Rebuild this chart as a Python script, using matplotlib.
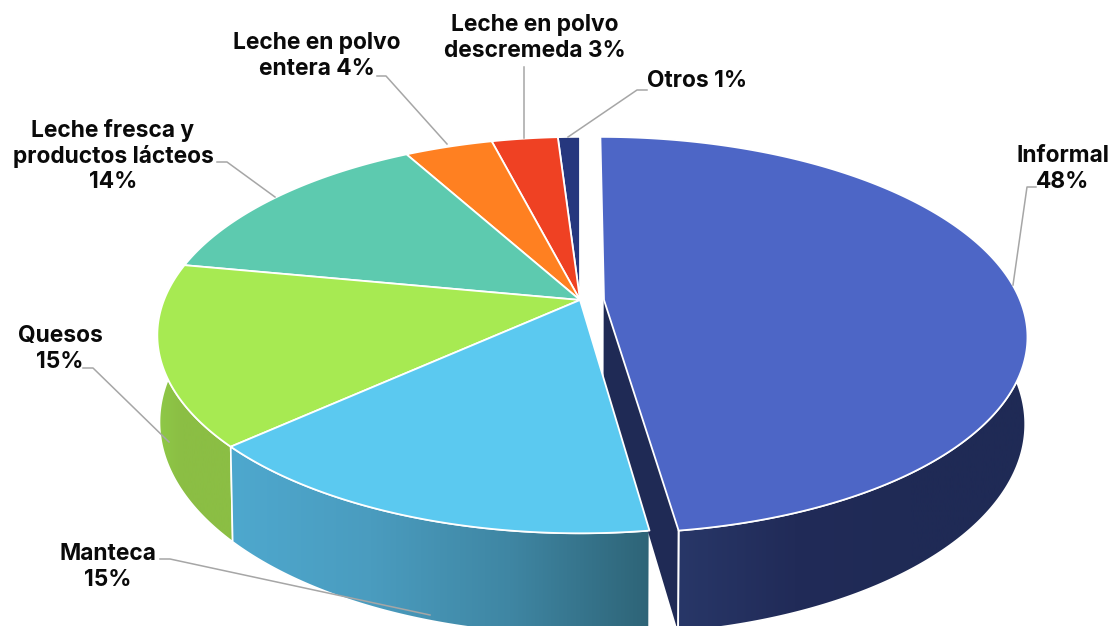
import numpy as np
import matplotlib
matplotlib.use("Agg")
import matplotlib.pyplot as plt
from matplotlib.colors import LinearSegmentedColormap
from matplotlib.patches import Polygon

# data
categories = ["Informal", "Manteca", "Quesos", "Leche fresca y productos lácteos",
              "Leche en polvo entera", "Leche en polvo descremeda", "Otros"]
values = [47.8, 15.45, 14.75, 14, 4, 3, 1]
top_colors = ["#4D66C6", "#5BC9F0", "#A7EA52", "#5DCAAF", "#FF8021", "#EF4123", "#26377E"]
wall_colors = [
    ["#283768", "#212B58", "#1F2A55", "#1F2A55"],
    ["#4EA8CE", "#4A9CBF", "#3F86A3", "#2E6477"],
    ["#8FC947", "#8BBE44", "#8BBE44", "#8BBE44"],
    ["#4FB096"] * 4, ["#D96C1C"] * 4, ["#CD371F"] * 4, ["#202F6B"] * 4,
]
label_texts = ["Informal\n48%", "Manteca\n15%", "Quesos\n15%",
               "Leche fresca y\nproductos lácteos\n14%",
               "Leche en polvo\nentera 4%", "Leche en polvo\ndescremeda 3%", "Otros 1%"]
label_pos = [(1063, 169), (108, 567), (60, 349), (113, 156), (317, 56), (535, 38), (697, 81)]
leaders = [
    [(1036, 187), (1027, 187), (1013, 285)],
    [(160, 559), (170, 559), (430, 615)],
    [(83, 368), (93, 368), (169, 442)],
    [(217, 162), (227, 162), (275, 197)],
    [(377, 76), (386, 76), (447, 144)],
    [(524, 67), (524, 138)],
    [(647, 90), (637, 90), (568, 137)],
]

# perspective of the disc
cx, cy = 580, 300
A, B, p = 416, 192, 0.177
q, H = 0.005, 85
explode = 24 / A


def project(theta, r=1.0, shift=0.0, low=False):
    u = r * np.sin(theta) + shift
    v = r * np.cos(theta)
    w = 1 + p * v
    if low:
        w = w + q
        return cx + A * u / w, cy + (H - B * v) / w
    return cx + A * u / w, cy - B * v / w


fig = plt.figure(figsize=(11.13, 6.26), dpi=100)
ax = fig.add_axes([0, 0, 1, 1])
ax.set_xlim(0, 1113)
ax.set_ylim(626, 0)
ax.axis("off")

edges = np.cumsum([0] + values) / sum(values) * 2 * np.pi
grad = np.linspace(0, 1, 256).reshape(1, -1)


def wall(pts, colors, z):
    poly = Polygon(pts, closed=True, facecolor="none", edgecolor="white", lw=1.2, zorder=z + 0.1)
    ax.add_patch(poly)
    cmap = LinearSegmentedColormap.from_list("w", colors)
    im = ax.imshow(grad, cmap=cmap, aspect="auto", zorder=z,
                   extent=(pts[:, 0].min(), pts[:, 0].max(), 626, 0))
    clip = Polygon(pts, closed=True, transform=ax.transData)
    im.set_clip_path(clip)


# sides, only the three front slices show one
for z, i in enumerate([0, 2, 1]):
    start = edges[i] + (np.pi / 3 if i == 0 else 0)
    t = np.linspace(start, edges[i + 1], 200)
    s = explode if i == 0 else 0.0
    tx, ty = project(t, shift=s)
    bx, by = project(t, shift=s, low=True)
    pts = np.column_stack([np.r_[tx, bx[::-1]], np.r_[ty, by[::-1]]])
    wall(pts, wall_colors[i], 2 + z * 0.2)

# cut face of the pulled out slice
t_end = edges[1]
f_top = [project(0, r=0, shift=explode), project(t_end, shift=explode)]
f_low = [project(t_end, shift=explode, low=True), project(0, r=0, shift=explode, low=True)]
ax.add_patch(Polygon(f_top + f_low, closed=True, facecolor="#1F2A55", edgecolor="none", zorder=3.5))
ax.plot(*zip(project(t_end, shift=explode), project(t_end, shift=explode, low=True)),
        color="white", lw=1.4, zorder=3.6)
# thin sliver of the other cut face
ax.plot(*zip(project(0, r=0, shift=explode), project(0, r=0, shift=explode, low=True)),
        color="#9AA0B8", lw=1.0, zorder=3.4)

# top faces
for i in [0, 6, 5, 4, 3, 2, 1]:
    t = np.linspace(edges[i], edges[i + 1], 200)
    s = explode if i == 0 else 0.0
    tx, ty = project(t, shift=s)
    ox, oy = project(0, r=0, shift=s)
    pts = np.column_stack([np.r_[ox, tx], np.r_[oy, ty]])
    ax.add_patch(Polygon(pts, closed=True, facecolor=top_colors[i], edgecolor="white",
                         lw=1.3, joinstyle="round", zorder=5 + (0 if i else 0.5)))

# labels and leader lines
for line in leaders:
    xs, ys = zip(*line)
    ax.plot(xs, ys, color="#A6A6A6", lw=1.1, zorder=4.5 if line[0][0] == 160 else 6)
for txt, (x, y) in zip(label_texts, label_pos):
    ax.text(x, y, txt, ha="center", va="center", fontsize=16.4, fontweight="bold",
            family="Inter", color="#0A0A0A", linespacing=1.18, zorder=7)

ax.set_xlim(0, 1113)
ax.set_ylim(626, 0)
fig.savefig("out.png", dpi=100, facecolor="white")
